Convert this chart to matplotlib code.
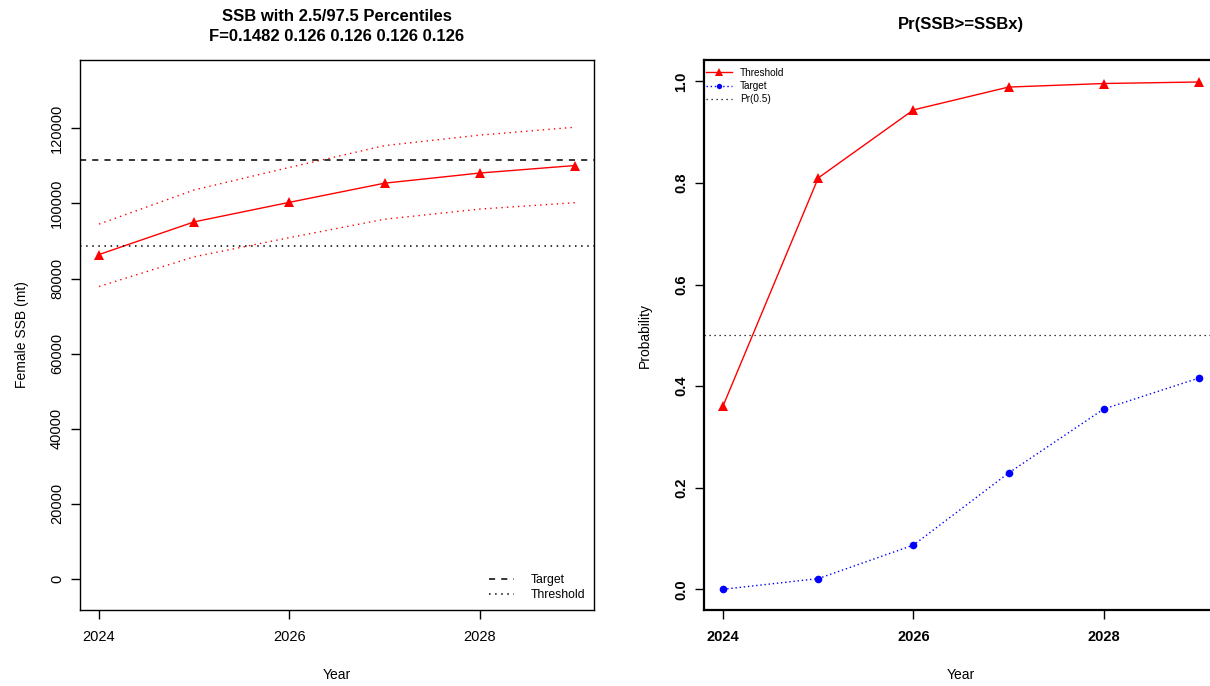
"""
SSB projection with percentile bands and probability of exceeding reference points.
"""

import matplotlib
matplotlib.use("Agg")
import matplotlib.pyplot as plt
from matplotlib.lines import Line2D

plt.rcParams['font.family'] = ['Liberation Sans', 'DejaVu Sans']

# Projection years
years = [2024, 2025, 2026, 2027, 2028, 2029]

# Female SSB (mt): median and 2.5/97.5 percentiles
ssb_median = [86400, 95100, 100300, 105400, 108100, 110100]
ssb_upper = [94500, 103600, 109600, 115400, 118200, 120300]
ssb_lower = [77900, 85800, 90900, 95800, 98500, 100200]

# Reference points
ssb_target = 111500
ssb_threshold = 88700

# Probability SSB >= reference point
pr_threshold = [0.361, 0.810, 0.944, 0.989, 0.996, 0.999]
pr_target = [0.000, 0.021, 0.087, 0.229, 0.355, 0.416]

f_values = ["0.1482", "0.126", "0.126", "0.126", "0.126"]

W, H = 1210, 686


def style_axis(ax, bold=False, spine_lw=1.0):
    for side in ['left', 'right', 'top', 'bottom']:
        ax.spines[side].set_linewidth(spine_lw)
        ax.spines[side].set_color('black')
    ax.tick_params(axis='both', length=6.5, width=1.0, labelsize=10.5, color='black')
    ax.tick_params(axis='x', pad=8)
    ax.tick_params(axis='y', pad=5)
    for lab in ax.get_yticklabels():
        lab.set_rotation(90)
        lab.set_va('center')
    if bold:
        for lab in ax.get_xticklabels() + ax.get_yticklabels():
            lab.set_fontweight('bold')


def make_plot():
    fig = plt.figure(figsize=(W / 100, H / 100), dpi=100)

    # ---- left panel: SSB with percentiles ----
    ax1 = fig.add_axes([80 / W, 76 / H, 514 / W, 550 / H])
    ax1.plot(years, ssb_median, color='red', lw=1.0, marker='^', ms=7.5,
             markeredgewidth=0)
    ax1.plot(years, ssb_upper, color='red', lw=1.0, ls=(0, (1, 3)))
    ax1.plot(years, ssb_lower, color='red', lw=1.0, ls=(0, (1, 3)))
    ax1.axhline(ssb_target, color='black', lw=1.1, ls=(0, (4, 4)))
    ax1.axhline(ssb_threshold, color='black', lw=1.1, ls=(0, (1, 3)))

    ax1.set_xlim(2023.8, 2029.2)
    ax1.set_ylim(-8255, 138200)
    ax1.set_xticks([2024, 2026, 2028])
    ax1.set_yticks([0, 20000, 40000, 60000, 80000, 100000, 120000])
    ax1.set_yticklabels([str(v) for v in [0, 20000, 40000, 60000, 80000, 100000, 120000]])
    style_axis(ax1)
    ax1.set_xlabel('Year', fontsize=10, labelpad=17)
    ax1.set_ylabel('Female SSB (mt)', fontsize=10, labelpad=15)
    ax1.set_title('SSB with 2.5/97.5 Percentiles\nF=' + ' '.join(f_values),
                  fontsize=12, fontweight='bold', pad=14, linespacing=1.4)

    handles = [Line2D([], [], color='black', lw=1.1, ls=(0, (4, 4))),
               Line2D([], [], color='black', lw=1.1, ls=(0, (1, 3)))]
    ax1.legend(handles, ['Target', 'Threshold'], loc='lower right', frameon=False,
               fontsize=8.8, handlelength=2.0, handletextpad=1.4,
               borderaxespad=0.3, labelspacing=0.3)

    # ---- right panel: probabilities ----
    ax2 = fig.add_axes([704 / W, 76 / H, 514 / W, 550 / H])
    ax2.plot(years, pr_threshold, color='red', lw=1.0, marker='^', ms=7.5,
             markeredgewidth=0, label='Threshold')
    ax2.plot(years, pr_target, color='blue', lw=1.0, ls=(0, (1, 2)), alpha=1.0,
             marker='o', ms=5.5, markeredgewidth=0, label='Target')
    ax2.axhline(0.5, color='black', lw=0.9, ls=(0, (1, 3)), label='Pr(0.5)')

    ax2.set_xlim(2023.8, 2029.2)
    ax2.set_ylim(-0.0408, 1.0423)
    ax2.set_xticks([2024, 2026, 2028])
    ax2.set_yticks([0.0, 0.2, 0.4, 0.6, 0.8, 1.0])
    ax2.set_yticklabels(['0.0', '0.2', '0.4', '0.6', '0.8', '1.0'])
    style_axis(ax2, bold=True, spine_lw=1.6)
    ax2.set_xlabel('Year', fontsize=10, labelpad=17)
    ax2.set_ylabel('Probability', fontsize=10, labelpad=16)
    ax2.set_title('Pr(SSB>=SSBx)', fontsize=12, fontweight='bold', pad=22)

    ax2.legend(loc='upper left', bbox_to_anchor=(0.0, 0.99), frameon=False,
               fontsize=7.2, handlelength=2.6, handletextpad=0.8,
               borderaxespad=0.0, borderpad=0.2, labelspacing=0.35,
               markerscale=0.7)

    fig.savefig('out.png', dpi=100)


if __name__ == "__main__":
    make_plot()
